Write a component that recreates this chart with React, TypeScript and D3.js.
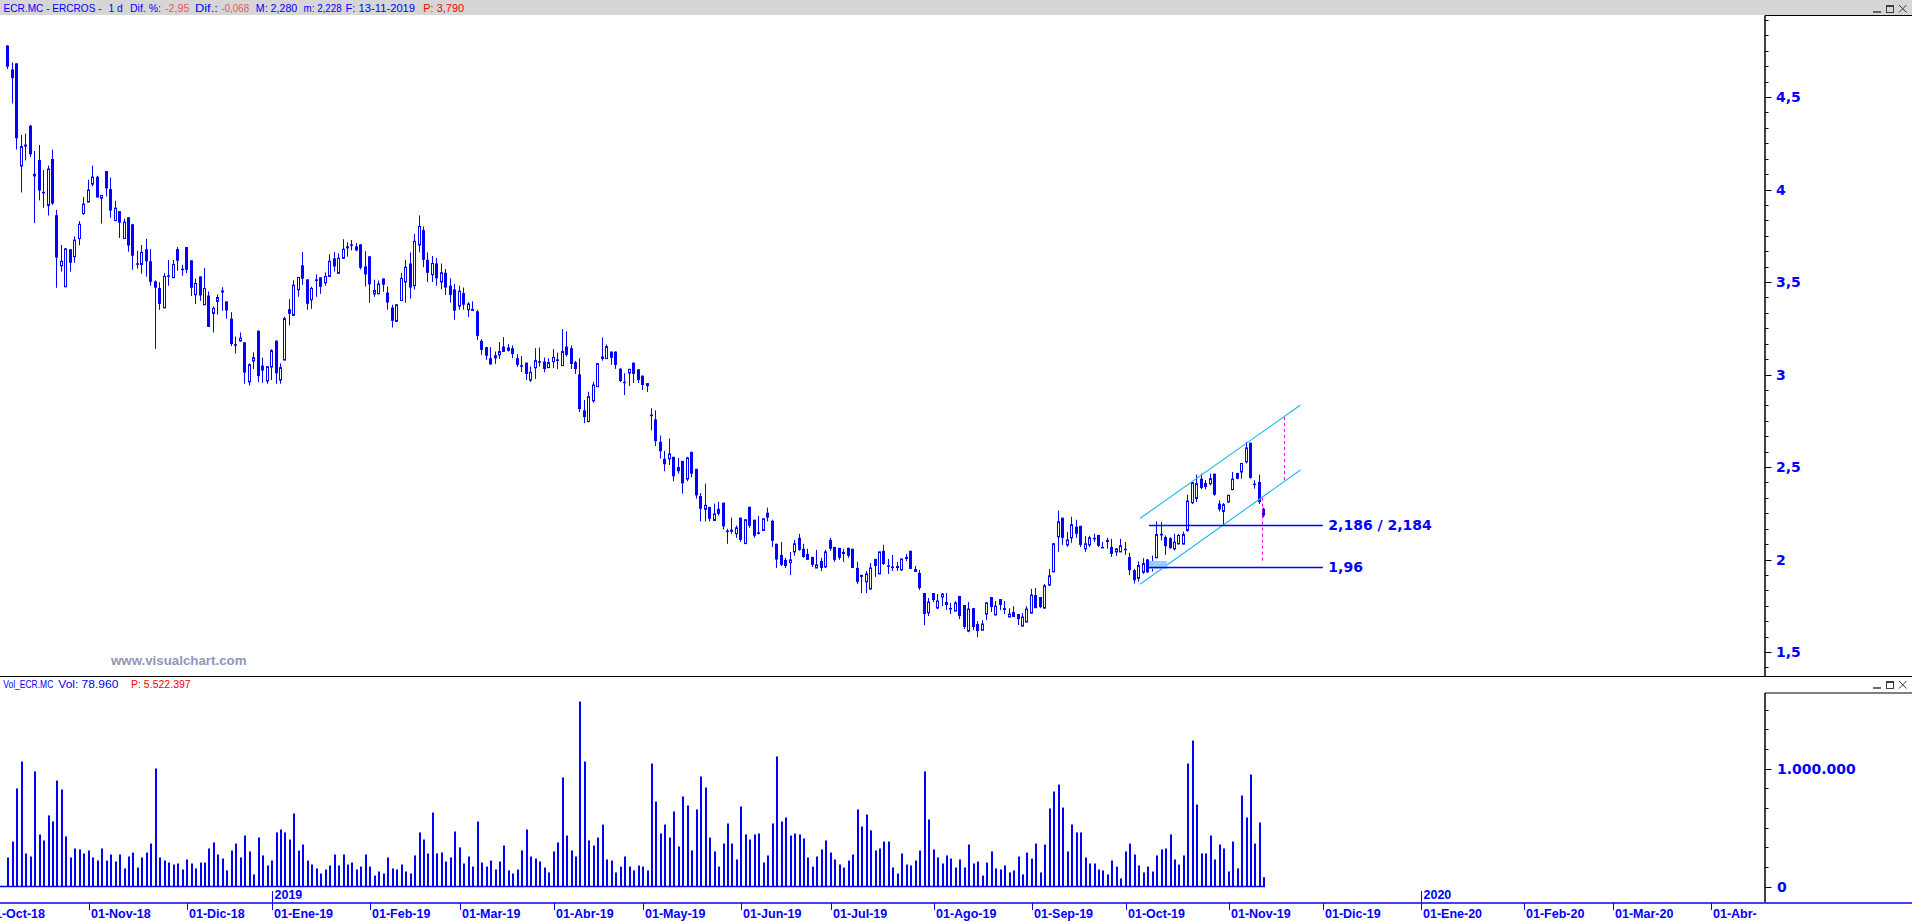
import * as d3 from "d3";

// daily OHLC, ERCROS (ECR.MC), 8-Oct-2018 .. 13-Nov-2019
const opens = [
  4.778, 4.649, 4.682, 4.127, 4.235, 4.345, 4.085, 4.159, 3.987, 3.914,
  4.165, 3.861, 3.588, 3.474, 3.677, 3.637, 3.735, 3.87, 3.932, 4.029,
  4.069, 3.953, 4.1, 4.002, 3.832, 3.883, 3.735, 3.85, 3.812, 3.601,
  3.595, 3.677, 3.612, 3.503, 3.467, 3.36, 3.536, 3.523, 3.678, 3.572,
  3.689, 3.617, 3.431, 3.53, 3.377, 3.427, 3.33, 3.395, 3.454, 3.395,
  3.302, 3.164, 3.181, 3.174, 2.96, 3.073, 3.237, 3.048, 2.965, 3.04,
  3.183, 2.97, 3.078, 3.353, 3.319, 3.458, 3.59, 3.514, 3.404, 3.514,
  3.525, 3.496, 3.53, 3.628, 3.547, 3.628, 3.693, 3.704, 3.693, 3.704,
  3.584, 3.639, 3.436, 3.436, 3.519, 3.443, 3.362, 3.287, 3.4, 3.5,
  3.6, 3.48, 3.7, 3.78, 3.62, 3.54, 3.6, 3.5, 3.55, 3.48,
  3.46, 3.37, 3.44, 3.35, 3.35, 3.341, 3.182, 3.148, 3.088, 3.104,
  3.106, 3.151, 3.146, 3.142, 3.088, 3.05, 3.064, 2.97, 3.037, 3.072,
  3.07, 3.037, 3.07, 3.082, 3.048, 3.151, 3.142, 3.066, 3.001, 2.806,
  2.745, 2.858, 2.934, 3.097, 3.086, 3.124, 3.124, 3.032, 2.961, 3.008,
  3.064, 3.028, 2.994, 2.94, 2.783, 2.757, 2.636, 2.544, 2.544, 2.555,
  2.5, 2.533, 2.435, 2.582, 2.49, 2.343, 2.271, 2.284, 2.211, 2.274,
  2.307, 2.156, 2.161, 2.139, 2.226, 2.086, 2.285, 2.215, 2.147, 2.157,
  2.253, 2.209, 2.085, 2.025, 1.998, 1.983, 2.041, 2.117, 2.058, 2.03,
  2.014, 1.954, 1.992, 1.96, 2.106, 2.068, 2.063, 2.041, 2.063, 2.058,
  1.954, 1.917, 1.879, 1.84, 2.003, 1.922, 2.047, 1.968, 1.962, 1.965,
  1.944, 2.014, 2.047, 1.949, 1.927, 1.819, 1.712, 1.819, 1.738, 1.797,
  1.77, 1.738, 1.721, 1.803, 1.754, 1.613, 1.737, 1.651, 1.618, 1.705,
  1.797, 1.7, 1.786, 1.737, 1.689, 1.716, 1.705, 1.64, 1.662, 1.71,
  1.808, 1.797, 1.737, 1.862, 1.933, 2.123, 2.226, 2.079, 2.117, 2.177,
  2.182, 2.058, 2.079, 2.117, 2.133, 2.068, 2.106, 2.068, 2.041, 2.041,
  2.058, 2.013, 1.942, 1.898, 1.931, 2.0, 1.976, 2.009, 2.139, 2.121,
  2.115, 2.058, 2.085, 2.083, 2.157, 2.307, 2.33, 2.437, 2.414, 2.41,
  2.464, 2.302, 2.26, 2.311, 2.378, 2.468, 2.473, 2.528, 2.631, 2.41,
  2.419, 2.275,
];
const highs = [
  4.78, 4.687, 4.682, 4.295, 4.302, 4.349, 4.208, 4.241, 4.105, 4.129,
  4.215, 3.89, 3.7, 3.684, 3.677, 3.747, 3.829, 3.959, 4.053, 4.129,
  4.074, 3.968, 4.1, 4.064, 3.939, 3.883, 3.843, 3.85, 3.812, 3.669,
  3.7, 3.733, 3.678, 3.509, 3.499, 3.548, 3.619, 3.619, 3.689, 3.593,
  3.689, 3.617, 3.519, 3.53, 3.575, 3.449, 3.368, 3.433, 3.472, 3.395,
  3.337, 3.205, 3.227, 3.174, 3.06, 3.12, 3.237, 3.091, 3.045, 3.136,
  3.183, 3.06, 3.313, 3.407, 3.509, 3.525, 3.662, 3.514, 3.474, 3.541,
  3.525, 3.552, 3.65, 3.662, 3.655, 3.731, 3.715, 3.727, 3.711, 3.704,
  3.666, 3.639, 3.512, 3.508, 3.519, 3.476, 3.377, 3.381, 3.55, 3.62,
  3.66, 3.76, 3.86, 3.8, 3.66, 3.64, 3.63, 3.6, 3.57, 3.52,
  3.49, 3.48, 3.47, 3.391, 3.395, 3.35, 3.191, 3.148, 3.148, 3.124,
  3.175, 3.202, 3.164, 3.157, 3.11, 3.099, 3.064, 3.043, 3.142, 3.146,
  3.092, 3.088, 3.137, 3.119, 3.245, 3.233, 3.157, 3.073, 3.088, 2.862,
  2.907, 2.961, 3.059, 3.2, 3.162, 3.124, 3.124, 3.032, 3.007, 3.028,
  3.064, 3.028, 2.994, 2.951, 2.817, 2.806, 2.67, 2.587, 2.654, 2.555,
  2.549, 2.533, 2.555, 2.582, 2.49, 2.359, 2.41, 2.284, 2.302, 2.312,
  2.307, 2.166, 2.226, 2.184, 2.226, 2.215, 2.285, 2.215, 2.236, 2.22,
  2.28, 2.215, 2.085, 2.095, 2.009, 2.041, 2.106, 2.139, 2.085, 2.058,
  2.014, 2.052, 2.009, 2.052, 2.117, 2.068, 2.063, 2.058, 2.063, 2.058,
  1.987, 1.917, 1.938, 1.981, 2.003, 2.041, 2.079, 2.003, 2.025, 1.987,
  2.003, 2.03, 2.047, 1.965, 1.944, 1.819, 1.792, 1.819, 1.813, 1.819,
  1.819, 1.765, 1.776, 1.803, 1.754, 1.77, 1.737, 1.667, 1.672, 1.77,
  1.797, 1.776, 1.786, 1.776, 1.737, 1.748, 1.705, 1.71, 1.748, 1.841,
  1.846, 1.797, 1.868, 1.949, 2.09, 2.264, 2.226, 2.15, 2.231, 2.215,
  2.182, 2.128, 2.128, 2.139, 2.133, 2.095, 2.117, 2.112, 2.058, 2.112,
  2.095, 2.036, 1.95, 1.99, 2.007, 2.003, 2.021, 2.206, 2.202, 2.13,
  2.121, 2.139, 2.139, 2.151, 2.35, 2.42, 2.459, 2.464, 2.43, 2.464,
  2.464, 2.32, 2.305, 2.35, 2.473, 2.468, 2.519, 2.636, 2.631, 2.428,
  2.459, 2.28,
];
const lows = [
  4.651, 4.465, 4.217, 3.984, 4.157, 4.176, 3.819, 3.941, 3.901, 3.859,
  3.917, 3.469, 3.556, 3.474, 3.556, 3.604, 3.698, 3.863, 3.932, 4.017,
  3.957, 3.816, 3.962, 3.847, 3.832, 3.738, 3.735, 3.664, 3.566, 3.572,
  3.545, 3.529, 3.48, 3.138, 3.35, 3.36, 3.48, 3.523, 3.561, 3.534,
  3.548, 3.425, 3.382, 3.398, 3.377, 3.257, 3.227, 3.324, 3.344, 3.302,
  3.154, 3.113, 3.178, 2.95, 2.94, 3.03, 2.96, 2.955, 2.95, 2.97,
  2.95, 2.95, 3.078, 3.265, 3.319, 3.42, 3.485, 3.35, 3.355, 3.42,
  3.436, 3.48, 3.53, 3.557, 3.547, 3.628, 3.637, 3.671, 3.666, 3.568,
  3.476, 3.387, 3.42, 3.436, 3.447, 3.35, 3.254, 3.287, 3.399, 3.388,
  3.41, 3.46, 3.66, 3.58, 3.5, 3.5, 3.48, 3.46, 3.43, 3.388,
  3.296, 3.35, 3.35, 3.312, 3.345, 3.187, 3.106, 3.079, 3.052, 3.057,
  3.084, 3.122, 3.124, 3.088, 3.041, 3.014, 2.97, 2.96, 2.976, 3.043,
  3.012, 3.037, 3.034, 3.03, 3.048, 3.097, 3.03, 3.003, 2.797, 2.737,
  2.745, 2.847, 2.934, 3.075, 3.086, 3.052, 3.03, 2.96, 2.889, 2.938,
  2.954, 2.954, 2.916, 2.905, 2.699, 2.613, 2.546, 2.477, 2.51, 2.423,
  2.464, 2.356, 2.423, 2.444, 2.329, 2.206, 2.206, 2.206, 2.211, 2.238,
  2.162, 2.085, 2.139, 2.117, 2.095, 2.086, 2.171, 2.117, 2.135, 2.157,
  2.206, 2.068, 1.954, 1.965, 1.954, 1.916, 2.02, 2.047, 2.009, 1.998,
  1.96, 1.954, 1.938, 1.954, 2.047, 1.987, 1.998, 1.987, 2.009, 1.954,
  1.868, 1.819, 1.819, 1.84, 1.906, 1.922, 1.971, 1.922, 1.938, 1.938,
  1.938, 1.992, 1.949, 1.933, 1.835, 1.645, 1.694, 1.77, 1.732, 1.748,
  1.727, 1.705, 1.721, 1.678, 1.624, 1.607, 1.618, 1.58, 1.618, 1.672,
  1.716, 1.7, 1.727, 1.705, 1.689, 1.689, 1.645, 1.64, 1.662, 1.71,
  1.737, 1.737, 1.737, 1.857, 1.933, 2.041, 2.079, 2.068, 2.09, 2.117,
  2.068, 2.041, 2.068, 2.095, 2.068, 2.063, 2.058, 2.014, 2.02, 2.041,
  2.025, 1.915, 1.87, 1.88, 1.922, 1.927, 1.935, 2.009, 2.103, 2.025,
  2.058, 2.049, 2.08, 2.083, 2.15, 2.3, 2.31, 2.38, 2.378, 2.4,
  2.345, 2.26, 2.186, 2.307, 2.374, 2.434, 2.437, 2.519, 2.437, 2.383,
  2.3, 2.228,
];
const closes = [
  4.664, 4.602, 4.277, 4.232, 4.24, 4.19, 4.071, 3.995, 3.985, 4.111,
  3.924, 3.632, 3.612, 3.679, 3.604, 3.726, 3.812, 3.921, 3.997, 4.067,
  3.957, 3.968, 4.006, 3.886, 3.899, 3.821, 3.823, 3.697, 3.642, 3.6,
  3.66, 3.612, 3.501, 3.469, 3.382, 3.53, 3.535, 3.595, 3.615, 3.571,
  3.566, 3.469, 3.492, 3.427, 3.465, 3.257, 3.357, 3.416, 3.443, 3.346,
  3.165, 3.163, 3.196, 3.01, 3.053, 3.091, 2.991, 3.021, 3.042, 3.129,
  3.006, 3.037, 3.302, 3.328, 3.483, 3.525, 3.518, 3.382, 3.465, 3.513,
  3.474, 3.53, 3.612, 3.584, 3.628, 3.677, 3.682, 3.703, 3.671, 3.577,
  3.541, 3.487, 3.454, 3.49, 3.485, 3.389, 3.29, 3.377, 3.52, 3.58,
  3.47, 3.72, 3.8, 3.62, 3.55, 3.6, 3.52, 3.55, 3.47, 3.43,
  3.345, 3.45, 3.377, 3.381, 3.352, 3.209, 3.133, 3.101, 3.055, 3.088,
  3.124, 3.122, 3.128, 3.111, 3.052, 3.048, 3.003, 3.012, 3.075, 3.071,
  3.03, 3.064, 3.092, 3.073, 3.124, 3.106, 3.057, 3.03, 2.813, 2.77,
  2.88, 2.943, 3.059, 3.084, 3.151, 3.09, 3.052, 2.965, 2.96, 3.028,
  3.003, 2.97, 2.943, 2.951, 2.782, 2.64, 2.585, 2.515, 2.571, 2.45,
  2.477, 2.412, 2.549, 2.464, 2.347, 2.274, 2.293, 2.22, 2.246, 2.247,
  2.179, 2.155, 2.15, 2.171, 2.106, 2.215, 2.182, 2.128, 2.146, 2.22,
  2.226, 2.101, 2.0, 1.971, 1.965, 1.998, 2.085, 2.052, 2.014, 1.998,
  1.971, 1.971, 1.954, 2.041, 2.058, 1.998, 2.009, 2.03, 2.02, 1.954,
  1.879, 1.906, 1.922, 1.954, 1.965, 2.041, 1.976, 1.967, 1.961, 1.954,
  2.003, 2.003, 1.949, 1.933, 1.846, 1.705, 1.77, 1.781, 1.776, 1.813,
  1.754, 1.737, 1.765, 1.694, 1.635, 1.732, 1.635, 1.613, 1.651, 1.765,
  1.743, 1.748, 1.754, 1.727, 1.705, 1.689, 1.678, 1.689, 1.732, 1.808,
  1.737, 1.743, 1.857, 1.912, 2.085, 2.204, 2.117, 2.106, 2.188, 2.139,
  2.079, 2.085, 2.117, 2.116, 2.074, 2.067, 2.095, 2.03, 2.058, 2.074,
  2.057, 1.942, 1.888, 1.967, 1.978, 1.931, 1.967, 2.135, 2.13, 2.072,
  2.061, 2.094, 2.13, 2.135, 2.316, 2.415, 2.41, 2.387, 2.392, 2.437,
  2.35, 2.271, 2.296, 2.347, 2.434, 2.437, 2.519, 2.603, 2.441, 2.408,
  2.31, 2.237,
];
// volume, thousands of shares
const volumesK = [
  246, 381, 831, 1059, 280, 254, 975, 441, 390, 602,
  551, 898, 822, 424, 246, 322, 314, 280, 305, 246,
  220, 322, 220, 271, 212, 271, 153, 254, 288, 161,
  246, 288, 364, 1000, 246, 220, 203, 186, 195, 144,
  229, 195, 153, 203, 203, 322, 373, 271, 237, 136,
  305, 364, 246, 432, 297, 102, 415, 263, 178, 220,
  458, 483, 458, 398, 619, 305, 356, 220, 186, 153,
  110, 144, 178, 271, 178, 271, 186, 203, 144, 169,
  271, 169, 93, 127, 110, 246, 153, 144, 186, 127,
  110, 263, 458, 398, 280, 627, 280, 288, 212, 246,
  466, 331, 195, 254, 169, 551, 203, 169, 220, 144,
  212, 347, 136, 110, 144, 305, 483, 254, 237, 212,
  161, 119, 297, 373, 924, 432, 305, 254, 1568, 1059,
  390, 347, 415, 525, 229, 220, 119, 169, 254, 169,
  136, 178, 169, 136, 1042, 720, 449, 525, 415, 636,
  339, 763, 686, 305, 653, 932, 839, 415, 297, 169,
  364, 534, 364, 229, 678, 441, 398, 441, 449, 203,
  263, 534, 1102, 551, 585, 432, 449, 441, 407, 246,
  169, 254, 314, 390, 288, 229, 186, 161, 220, 271,
  653, 508, 610, 475, 305, 322, 381, 381, 161, 110,
  280, 186, 178, 220, 305, 975, 568, 314, 246, 195,
  263, 237, 161, 229, 161, 356, 195, 212, 93, 203,
  297, 153, 144, 178, 119, 136, 254, 102, 288, 237,
  364, 119, 356, 661, 805, 864, 669, 297, 525, 458,
  458, 246, 195, 195, 144, 136, 102, 220, 169, 68,
  297, 364, 271, 178, 119, 169, 127, 263, 314, 322,
  441, 229, 186, 263, 1042, 1237, 695, 280, 280, 432,
  229, 356, 322, 127, 381, 153, 771, 585, 949, 364,
  542, 78.96,
];

const holidays = ["2018-12-25", "2018-12-26", "2019-01-01", "2019-04-19", "2019-04-22", "2019-05-01"];
const firstDay = "2018-10-08";
const lastDay = "2019-11-13";
const monthLabels = [
  "01-Oct-18", "01-Nov-18", "01-Dic-18", "01-Ene-19", "01-Feb-19", "01-Mar-19", "01-Abr-19",
  "01-May-19", "01-Jun-19", "01-Jul-19", "01-Ago-19", "01-Sep-19", "01-Oct-19", "01-Nov-19",
  "01-Dic-19", "01-Ene-20", "01-Feb-20", "01-Mar-20", "01-Abr-20",
];
const yearLabels = ["2019", "2020"];
const priceTicks = [1.5, 2, 2.5, 3, 3.5, 4, 4.5];
const priceTickLabels = ["1,5", "2", "2,5", "3", "3,5", "4", "4,5"];
const volTicks = [0, 1000];
const volTickLabels = ["0", "1.000.000"];

// drawn studies (candle index, price)
const channelUpper = [[253.4, 2.222], [289.3, 2.835]];
const channelLower = [[253.4, 1.866], [289.3, 2.484]];
const levels = [
  { value: 2.186, label: "2,186 / 2,184" },
  { value: 1.96, label: "1,96" },
];
const levelFrom = 255.4;
const levelTo = 294.3;

const W = 1912;
const H = 922;
const AXIS_X = 1765;
const BLUE = "#0000ff";
const BOLD = "'DejaVu Sans', sans-serif";
const SANS = "'Liberation Sans', Arial, sans-serif";

const parse = d3.utcParse("%Y-%m-%d");
const fmt = d3.utcFormat("%Y-%m-%d");
const holidaySet = new Set(holidays);
const lastDate = parse(lastDay)!;
const slots = d3.utcDay
  .range(parse("2018-10-01")!, parse("2020-05-01")!)
  .filter((d) => d.getUTCDay() % 6 !== 0 && !(d <= lastDate && holidaySet.has(fmt(d))));
const slot0 = slots.findIndex((d) => fmt(d) === firstDay);

const x = d3.scaleLinear([slot0, slot0 + closes.length - 1], [7.3, 1263.4]);
const cx = (i: number) => x(slot0 + i);
const y = d3.scaleLinear([1.5, 4.5], [652, 97]);
const yv = d3.scaleLinear([0, 1000], [886.5, 768.5]);

const lineAt = (seg: number[][], i: number) =>
  seg[0][1] + ((i - seg[0][0]) / (seg[1][0] - seg[0][0])) * (seg[1][1] - seg[0][1]);

function WinButtons({ top }: { top: number }) {
  return (
    <g stroke="#3c3c3c" fill="none" strokeWidth={1}>
      <line x1={1873} x2={1881} y1={top + 7} y2={top + 7} strokeWidth={1.5} />
      <rect x={1886.5} y={top + 0.5} width={7} height={7} />
      <line x1={1886.5} x2={1893.5} y1={top + 1.5} y2={top + 1.5} />
      <path d={`M1899,${top} L1906.5,${top + 7.5} M1906.5,${top} L1899,${top + 7.5}`} />
    </g>
  );
}

export default function App() {
  const monthTicks = monthLabels.map((label, k) => {
    const start = d3.utcMonth.offset(parse("2018-10-01")!, k);
    const s = slots.findIndex((d) => d >= start);
    return { label, px: Math.round(x(s)) + 1.5 };
  });
  const yearTicks = yearLabels.map((label) => {
    const s = slots.findIndex((d) => d.getUTCFullYear() === +label);
    return { label, px: Math.round(x(s)) + 1.5 };
  });

  const minorPrice: number[] = [];
  for (let k = 12; k <= 60; k++) {
    const py = y(k / 12);
    if (py > 17 && py < 675) minorPrice.push(k);
  }
  const minorVol: number[] = [];
  for (let k = 0; k <= 12; k++) {
    const py = yv((k * 1000) / 6);
    if (py > 694) minorVol.push(k);
  }

  const lastBar = Math.round(cx(closes.length - 1)) + 2;
  const projA = 285.5;
  const projB = 280.6;

  return (
    <svg
      width={W}
      height={H}
      style={{ position: "absolute", left: 0, top: 0, display: "block", background: "#fff" }}
      fontFamily={SANS}
    >
      <defs>
        <clipPath id="mainClip">
          <rect x={0} y={16} width={AXIS_X} height={660} />
        </clipPath>
        <clipPath id="dateClip">
          <rect x={0} y={880} width={1757} height={42} />
        </clipPath>
      </defs>

      {/* header */}
      <rect x={0} y={0} width={W} height={15} fill="#d6d6d6" />
      <g fontSize={10.5} fill={BLUE}>
        <text x={3.6} y={12} textLength={98} lengthAdjust="spacingAndGlyphs">ECR.MC - ERCROS -</text>
        <text x={108.5} y={12} textLength={14.3} lengthAdjust="spacingAndGlyphs">1 d</text>
        <text x={130} y={12} textLength={31} lengthAdjust="spacingAndGlyphs">Dif. %:</text>
        <text x={165} y={12} textLength={24.5} lengthAdjust="spacingAndGlyphs" fill="#e05a5a">-2,95</text>
        <text x={195} y={12} textLength={22.8} lengthAdjust="spacingAndGlyphs">Dif.:</text>
        <text x={221.4} y={12} textLength={27.7} lengthAdjust="spacingAndGlyphs" fill="#e05a5a">-0,068</text>
        <text x={255.8} y={12} textLength={41.5} lengthAdjust="spacingAndGlyphs">M: 2,280</text>
        <text x={303.6} y={12} textLength={38} lengthAdjust="spacingAndGlyphs">m: 2,228</text>
        <text x={345.5} y={12} textLength={69.6} lengthAdjust="spacingAndGlyphs">F: 13-11-2019</text>
        <text x={423.2} y={12} textLength={41} lengthAdjust="spacingAndGlyphs" fill="#ff0000">P: 3,790</text>
      </g>
      <WinButtons top={5} />

      {/* frame lines */}
      <line x1={AXIS_X} x2={W} y1={15.5} y2={15.5} stroke="#000" />
      <line x1={AXIS_X} x2={AXIS_X} y1={15.5} y2={676} stroke="#000" strokeWidth={1.5} />
      <line x1={0} x2={W} y1={676.5} y2={676.5} stroke="#000" />
      <line x1={AXIS_X} x2={W} y1={693} y2={693} stroke="#000" />
      <line x1={AXIS_X} x2={AXIS_X} y1={693} y2={902} stroke="#000" strokeWidth={1.5} />

      {/* price axis */}
      <g stroke="#000" strokeWidth={1}>
        {minorPrice.map((k) => (
          <line
            key={k}
            x1={AXIS_X}
            x2={AXIS_X + (k % 6 === 0 ? 6.5 : 3.5)}
            y1={Math.round(y(k / 12)) + 0.5}
            y2={Math.round(y(k / 12)) + 0.5}
          />
        ))}
      </g>
      <g fontFamily={BOLD} fontWeight="bold" fontSize={14} fill={BLUE}>
        {priceTicks.map((v, i) => (
          <text key={v} x={1776} y={y(v)} dy="0.36em">
            {priceTickLabels[i]}
          </text>
        ))}
      </g>

      {/* volume axis */}
      <g stroke="#000" strokeWidth={1}>
        {minorVol.map((k) => (
          <line
            key={k}
            x1={AXIS_X}
            x2={AXIS_X + (k % 6 === 0 ? 6.5 : 3.5)}
            y1={Math.round(yv((k * 1000) / 6)) + 0.5}
            y2={Math.round(yv((k * 1000) / 6)) + 0.5}
          />
        ))}
      </g>
      <g fontFamily={BOLD} fontWeight="bold" fontSize={14} fill={BLUE}>
        {volTicks.map((v, i) => (
          <text key={v} x={1777} y={yv(v)} dy="0.36em">
            {volTickLabels[i]}
          </text>
        ))}
      </g>

      {/* watermark */}
      <text x={111} y={664.5} fontSize={13.3} fontWeight="bold" fill="#8f96b8">
        www.visualchart.com
      </text>

      {/* candles */}
      <g clipPath="url(#mainClip)">
        {closes.map((c, i) => {
          const o = opens[i];
          const px = Math.round(cx(i));
          const yo = y(o);
          const yc = y(c);
          const top = Math.min(yo, yc);
          const h = Math.max(yo, yc) - top;
          return (
            <g key={i}>
              <line x1={px + 0.5} x2={px + 0.5} y1={y(highs[i])} y2={y(lows[i])} stroke={BLUE} />
              {c >= o ? (
                <rect x={px - 0.5} y={top} width={2} height={Math.max(h, 1)} fill="#fff" stroke={BLUE} />
              ) : (
                <rect x={px - 1} y={top} width={3} height={Math.max(h, 1.5)} fill={BLUE} />
              )}
            </g>
          );
        })}

        {/* channel */}
        {[channelUpper, channelLower].map((seg, k) => (
          <line
            key={k}
            x1={cx(seg[0][0])}
            y1={y(seg[0][1])}
            x2={cx(seg[1][0])}
            y2={y(seg[1][1])}
            stroke="#1ab8f0"
            strokeWidth={1.1}
          />
        ))}

        {/* levels */}
        <rect
          x={cx(levelFrom)}
          y={y(1.96) - 6}
          width={cx(259.5) - cx(levelFrom)}
          height={8}
          fill="#9ccdff"
        />
        {levels.map((lv) => (
          <g key={lv.label}>
            <line
              x1={cx(levelFrom)}
              x2={cx(levelTo)}
              y1={Math.round(y(lv.value)) + 0.5}
              y2={Math.round(y(lv.value)) + 0.5}
              stroke={BLUE}
              strokeWidth={1.3}
            />
            <text
              x={cx(levelTo) + 5.5}
              y={y(lv.value)}
              dy="0.36em"
              fontFamily={BOLD}
              fontWeight="bold"
              fontSize={14}
              fill={BLUE}
            >
              {lv.label}
            </text>
          </g>
        ))}

        {/* projections */}
        <g stroke="#ff00ff" strokeDasharray="3,3" strokeWidth={1}>
          <line
            x1={Math.round(cx(projA)) + 0.5}
            x2={Math.round(cx(projA)) + 0.5}
            y1={y(lineAt(channelUpper, projA))}
            y2={y(lineAt(channelLower, projA))}
          />
          <line
            x1={Math.round(cx(projB)) + 0.5}
            x2={Math.round(cx(projB)) + 0.5}
            y1={y(lineAt(channelLower, projB))}
            y2={y(1.98)}
          />
        </g>
      </g>

      {/* volume panel */}
      <g fontSize={10} fill={BLUE}>
        <text x={3.3} y={688} textLength={50} lengthAdjust="spacingAndGlyphs">Vol_ECR.MC</text>
        <text x={58.3} y={688} textLength={60} lengthAdjust="spacingAndGlyphs">Vol: 78.960</text>
        <text x={131} y={688} textLength={59.7} lengthAdjust="spacingAndGlyphs" fill="#ff0000">P: 5.522.397</text>
      </g>
      <WinButtons top={681} />
      <g fill={BLUE}>
        {volumesK.map((v, i) => {
          const px = Math.round(cx(i));
          return <rect key={i} x={px} y={yv(v)} width={2} height={yv(0) - yv(v)} />;
        })}
      </g>
      <line x1={0} x2={lastBar} y1={yv(0)} y2={yv(0)} stroke={BLUE} strokeWidth={1.5} />

      {/* date axis */}
      <line x1={0} x2={W} y1={903} y2={903} stroke={BLUE} strokeWidth={1.5} />
      <g clipPath="url(#dateClip)" fontWeight="bold" fontSize={12.5} fill={BLUE}>
        {monthTicks.map((t) => (
          <g key={t.label}>
            <line x1={t.px} x2={t.px} y1={903} y2={910} stroke={BLUE} />
            <text x={t.px + 1.5} y={918}>
              {t.label}
            </text>
          </g>
        ))}
      </g>
      <g fontWeight="bold" fontSize={12.5} fill={BLUE}>
        {yearTicks.map((t) => (
          <g key={t.label}>
            <line x1={t.px} x2={t.px} y1={891} y2={910} stroke={BLUE} />
            <text x={t.px + 2} y={899}>
              {t.label}
            </text>
          </g>
        ))}
      </g>
    </svg>
  );
}
